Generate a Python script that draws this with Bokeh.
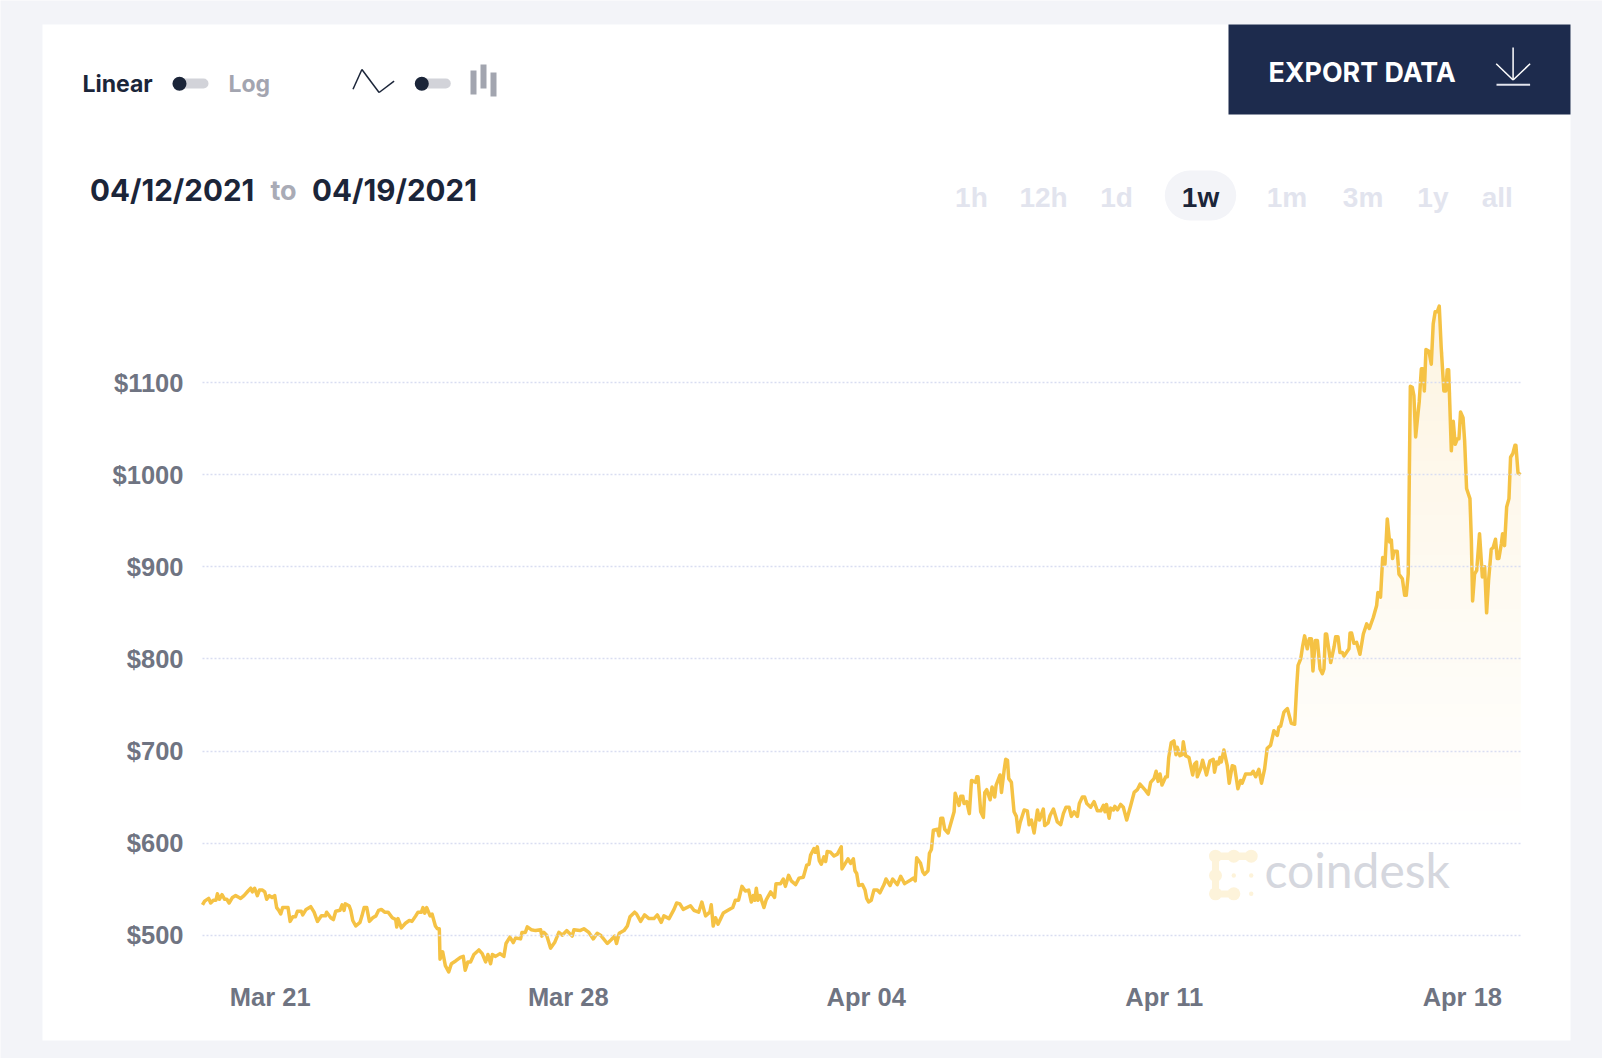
import numpy as np
import pandas as pd
from bokeh.plotting import figure
from bokeh.embed import file_html
from bokeh.resources import INLINE
from bokeh.models import (Arrow, BoxAnnotation, FixedTicker, Label,
                          PrintfTickFormatter, Range1d)

START = pd.Timestamp("2021-03-19 09:48")
TICK_DATES = ["2021-03-21", "2021-03-28", "2021-04-04", "2021-04-11", "2021-04-18"]
TICK_LABELS = ["Mar 21", "Mar 28", "Apr 04", "Apr 11", "Apr 18"]
PRICE_TICKS = [500, 600, 700, 800, 900, 1000, 1100]
RANGES = ["1h", "12h", "1d", "1w", "1m", "3m", "1y", "all"]

HOURS = [
    0, 1.2, 3.5, 4.6, 6.1, 7.6, 8.4, 9.5, 11.0, 12.5,
    13.7, 15.0, 16.9, 18.7, 20.6, 21.5, 23.4, 25.7, 27.2, 28.1,
    29.4, 30.9, 32.1, 33.8, 35.1, 36.2, 37.7, 39.2, 40.7, 41.8,
    43.0, 44.1, 45.2, 48.2, 49.4, 50.9, 52.4, 53.5, 55.7, 56.5,
    58.4, 61.0, 62.9, 64.8, 67.0, 69.3, 70.0, 72.3, 73.8, 75.1,
    77.5, 78.7, 79.8, 80.5, 82.6, 83.6, 84.7, 86.4, 88.8, 89.9,
    91.1, 92.6, 94.1, 96.0, 97.8, 99.3, 100.8, 102.7, 104.6, 107.0,
    108.9, 109.5, 110.2, 112.1, 114.4, 116.6, 118.1, 120.2, 121.5, 123.4,
    124.3, 125.3, 126.4, 128.3, 129.4, 131.3, 132.4, 133.5, 133.9, 135.4,
    136.9, 138.8, 140.3, 142.7, 145.4, 147.0, 148.1, 149.6, 151.1, 153.0,
    155.8, 157.7, 159.6, 160.9, 162.4, 163.4, 165.2, 167.7, 169.9, 171.1,
    173.3, 175.2, 176.5, 179.3, 180.1, 182.0, 183.1, 185.3, 187.8, 190.6,
    191.3, 192.5, 194.0, 196.2, 198.5, 200.9, 202.8, 205.3, 208.4, 209.4,
    212.8, 215.0, 217.8, 220.3, 222.5, 224.4, 228.2, 230.4, 232.3, 233.4,
    234.9, 237.6, 239.5, 241.0, 243.6, 244.7, 247.0, 249.2, 251.7, 254.5,
    256.4, 258.6, 260.1, 263.0, 265.8, 267.3, 269.1, 271.0, 275.1, 277.0,
    279.7, 281.5, 283.6, 286.0, 286.8, 287.9, 289.2, 290.6, 292.1, 293.6,
    296.2, 298.9, 300.4, 302.2, 304.1, 306.0, 307.9, 309.4, 310.5, 311.3,
    312.2, 313.1, 314.3, 316.5, 317.7, 320.3, 322.5, 323.3, 325.9, 327.4,
    328.6, 330.4, 331.9, 334.4, 336.3, 338.7, 340.6, 341.9, 342.8, 344.7,
    345.5, 346.6, 347.7, 348.8, 350.3, 351.3, 352.2, 354.1, 356.0, 357.9,
    360.1, 360.5, 362.7, 363.9, 365.4, 366.9, 367.8, 368.8, 369.9, 372.0,
    373.5, 374.4, 375.5, 377.0, 378.5, 380.4, 381.9, 384.2, 385.3, 387.6,
    389.1, 391.7, 393.6, 395.8, 399.2, 400.7, 401.8, 402.6, 404.8, 406.0,
    407.1, 409.0, 409.8, 410.9, 412.0, 414.3, 415.2, 416.2, 417.3, 418.4,
    420.3, 423.7, 424.3, 426.5, 427.5, 428.6, 429.3, 430.8, 432.3, 433.5,
    435.9, 436.5, 437.2, 438.7, 440.2, 441.0, 442.1, 444.0, 445.1, 446.6,
    447.4, 449.6, 450.4, 451.9, 452.8, 453.8, 454.5, 456.0, 457.5, 458.8,
    459.8, 460.9, 463.2, 465.0, 466.0, 467.3, 468.8, 470.7, 471.8, 474.0,
    474.8, 476.7, 477.8, 479.7, 481.9, 483.8, 485.3, 486.8, 488.5, 489.8,
    491.3, 493.2, 494.3, 496.0, 497.3, 498.5, 500.7, 502.6, 504.5, 506.4,
    507.9, 508.8, 509.6, 511.1, 512.0, 513.5, 514.3, 515.8, 517.6, 519.1,
    521.0, 523.3, 525.2, 527.0, 528.5, 531.7, 533.2, 534.5, 536.4, 537.6,
    538.7, 539.8, 540.9, 543.0, 543.9, 544.7, 546.1, 547.6, 548.8, 549.5,
    551.0, 552.3, 552.9, 554.2, 556.1, 558.2, 559.3, 560.4, 560.8, 562.7,
    563.8, 566.0, 567.9, 569.8, 570.5, 571.7, 572.8, 573.6, 574.3, 575.8,
    577.7, 578.8, 580.5, 581.8, 583.7, 585.2, 586.1, 588.0, 591.2, 592.3,
    593.7, 595.5, 597.0, 598.7, 600.2, 602.1, 604.0, 605.9, 606.8, 607.8,
    609.6, 610.4, 611.6, 613.8, 615.7, 616.8, 617.6, 619.1, 620.2, 621.3,
    622.8, 624.0, 625.1, 626.0, 627.3, 628.5, 630.0, 631.3, 632.2, 633.0,
    633.7, 636.0, 637.9, 638.8, 640.1, 641.2, 642.6, 643.5, 646.3, 646.9,
    647.8, 649.1, 650.6, 652.5, 654.4, 656.3, 657.8, 660.0, 661.9, 662.6,
    664.1, 665.3, 666.6, 667.9, 669.2, 670.2, 670.9, 671.7, 673.5, 674.5,
    676.4, 677.7, 678.6, 679.7, 680.3, 680.9, 682.0, 682.9, 683.9, 685.2,
    685.9, 687.1, 688.0, 688.8, 689.7, 691.4, 692.7, 693.8, 694.9, 696.1,
    697.2, 698.3, 699.8, 700.9, 701.7, 702.5, 704.0, 705.1, 706.2, 707.4,
    708.3, 709.2, 710.6, 711.5, 712.6, 714.5, 715.3, 716.0, 717.1, 718.3,
    719.9, 721.5, 722.8, 723.9, 725.0, 726.5, 727.6, 728.9, 729.9, 730.8,
    732.2, 732.9, 734.0, 735.2, 736.5, 737.4, 738.7, 739.9, 740.4, 741.6,
    743.0,
]

PRICES = [
    533, 537, 540, 535, 538, 538, 545, 539, 544, 539,
    539, 535, 541, 543, 541, 540, 543, 548, 551, 547,
    551, 543, 549, 549, 547, 539, 543, 541, 543, 530,
    527, 523, 530, 530, 515, 520, 520, 526, 526, 522,
    528, 531, 525, 515, 521, 521, 525, 519, 517, 526,
    527, 533, 527, 534, 532, 527, 516, 510, 514, 521,
    530, 530, 515, 519, 521, 527, 528, 525, 525, 519,
    517, 509, 518, 508, 513, 516, 515, 521, 525, 525,
    530, 524, 530, 521, 523, 510, 507, 507, 474, 482,
    467, 460, 469, 472, 476, 477, 462, 471, 471, 479,
    484, 480, 471, 479, 469, 479, 477, 480, 477, 491,
    498, 492, 497, 496, 503, 503, 509, 506, 505, 506,
    499, 503, 500, 486, 492, 503, 500, 505, 499, 506,
    505, 507, 503, 496, 502, 500, 491, 495, 499, 491,
    502, 505, 510, 520, 525, 523, 515, 522, 518, 518,
    522, 514, 521, 518, 528, 535, 534, 528, 532, 527,
    525, 536, 521, 525, 533, 510, 519, 512, 518, 524,
    527, 530, 538, 538, 553, 548, 549, 536, 543, 538,
    551, 538, 543, 530, 538, 547, 541, 556, 556, 561,
    553, 565, 559, 555, 562, 563, 576, 577, 587, 594,
    590, 596, 581, 577, 585, 580, 591, 590, 586, 588,
    596, 572, 579, 583, 578, 583, 570, 567, 554, 555,
    549, 540, 536, 538, 549, 549, 546, 555, 561, 554,
    561, 555, 564, 556, 560, 562, 559, 584, 578, 569,
    566, 570, 589, 593, 614, 615, 608, 627, 627, 615,
    611, 634, 654, 641, 651, 651, 643, 645, 632, 668,
    666, 672, 672, 634, 628, 655, 658, 647, 661, 650,
    663, 674, 655, 679, 691, 690, 670, 666, 634, 629,
    612, 622, 636, 635, 620, 625, 611, 636, 625, 637,
    619, 622, 630, 637, 623, 620, 632, 639, 639, 629,
    634, 629, 643, 650, 650, 643, 639, 645, 635, 635,
    641, 634, 642, 627, 638, 636, 640, 636, 642, 639,
    625, 641, 655, 658, 664, 657, 653, 666, 670, 678,
    667, 675, 663, 672, 672, 693, 709, 711, 696, 704,
    695, 696, 710, 695, 693, 674, 686, 688, 672, 681,
    690, 674, 689, 691, 677, 688, 686, 693, 688, 701,
    684, 665, 684, 683, 659, 668, 665, 675, 675, 678,
    672, 680, 665, 680, 703, 706, 722, 717, 726, 727,
    742, 744, 746, 730, 729, 769, 793, 800, 814, 825,
    811, 822, 822, 787, 820, 820, 789, 784, 789, 827,
    827, 796, 813, 824, 824, 807, 807, 803, 811, 828,
    828, 817, 818, 805, 827, 838, 833, 845, 858, 872,
    867, 910, 903, 952, 927, 929, 909, 917, 917, 892,
    887, 869, 869, 892, 994, 1096, 1095, 1086, 1041, 1066,
    1079, 1115, 1115, 1091, 1136, 1134, 1120, 1164, 1177, 1177,
    1183, 1138, 1091, 1091, 1114, 1114, 1026, 1058, 1033, 1039,
    1039, 1068, 1062, 1037, 985, 974, 929, 863, 892, 896,
    936, 889, 900, 850, 885, 919, 921, 930, 909, 909,
    925, 936, 923, 965, 974, 1019, 1023, 1032, 1032, 1002,
    1000,
]

W, H = 1602, 1058
HOURS_PER_PX = 743 / 1318
USD_PER_PX = 1.0858
INK, GREY, BG = "#1b2539", "#a3a5b0", "#f3f4f8"
GOLD = "#f5c244"

times = START + pd.to_timedelta(HOURS, unit="h")
prices = np.array(PRICES, dtype=float)
tick_ms = [pd.Timestamp(d).value // 10**6 for d in TICK_DATES]
x0 = START - pd.Timedelta(hours=202 * HOURS_PER_PX)
x1 = START + pd.Timedelta(hours=(W - 202) * HOURS_PER_PX)
y1 = 500 + 934.7 * USD_PER_PX
y0 = 500 - (H - 934.7) * USD_PER_PX

p = figure(width=W, height=H, x_axis_type="datetime", output_backend="svg", toolbar_location=None,
           x_range=Range1d(x0, x1), y_range=Range1d(y0, y1),
           min_border=0, border_fill_color=BG, background_fill_color=BG, outline_line_color=None)


def fx(px):
    return px


def fy(py):
    return H - py


def box(l, t, r, b, color, radius=0, level="annotation"):
    p.add_layout(BoxAnnotation(left=fx(l), right=fx(r), top=fy(t), bottom=fy(b),
                               left_units="screen", right_units="screen",
                               top_units="screen", bottom_units="screen",
                               fill_color=color, fill_alpha=1, line_color=None,
                               border_radius=radius, level=level, editable=False))


def seg(xa, ya, xb, yb, color, width=1.5):
    p.add_layout(Arrow(end=None, x_start=fx(xa), y_start=fy(ya), x_end=fx(xb), y_end=fy(yb),
                       start_units="screen", end_units="screen", line_color=color, line_width=width))


def text(px, py, s, size, color, font="Inter", style="bold", align="left", lift=0.37):
    # labels land lower than their anchor with this baseline, so the anchor is lifted
    p.add_layout(Label(x=fx(px), y=fy(py - size * lift), x_units="screen", y_units="screen", text=s,
                       text_font=font, text_font_size=f"{size}px", text_font_style=style,
                       text_color=color, text_align=align, text_baseline="alphabetic"))


# card and export button
box(42, 24, 1570, 1040, "#ffffff", level="image")
box(1228, 24, 1570, 114, "#1d2b4d", level="image")

# watermark
LOGO = "#fdf3da"
for cx, cy in [(1215, 855.7), (1233.3, 855.7), (1250.7, 855.7), (1215, 875), (1215, 893.3), (1233.3, 893.3)]:
    box(cx - 6.5, cy - 6.5, cx + 6.5, cy + 6.5, LOGO, 7, level="image")
box(1215, 852, 1250, 859.5, LOGO, level="image")
box(1211.5, 856, 1218.5, 893, LOGO, level="image")
box(1215, 890, 1233, 897, LOGO, level="image")
for cx, cy in [(1233.3, 875), (1250.7, 875), (1250.7, 893.3)]:
    box(cx - 2.2, cy - 2.2, cx + 2.2, cy + 2.2, LOGO, 3, level="image")
text(1264, 890.7, "coindesk", 48, "#d5d7de", font="Lato", style="normal", lift=0.446)

# gradient under the line, nested opaque layers
thresholds = np.linspace(620, 1190, 40)
top_rgb = np.array([253, 244, 225])
for i, t in enumerate(thresholds):
    mix = (i + 1) / len(thresholds)
    rgb = np.round(255 + (top_rgb - 255) * mix).astype(int)
    p.varea(times, y1=np.full(len(prices), t), y2=np.maximum(prices, t),
            fill_color="#%02x%02x%02x" % tuple(rgb), fill_alpha=1)

p.line(times, prices, line_color=GOLD, line_width=3.5, line_join="round")

# axes and grid
p.xgrid.visible = False
p.ygrid.ticker = FixedTicker(ticks=PRICE_TICKS)
p.ygrid.grid_line_color = "#d9ddf1"
p.ygrid.grid_line_width = 1.5
p.ygrid.grid_line_dash = "2 2"
p.ygrid.level = "overlay"
p.ygrid.cross_bounds = (START.value / 1e6, (START + pd.Timedelta(hours=743)).value / 1e6)

p.yaxis.ticker = FixedTicker(ticks=PRICE_TICKS)
p.yaxis.formatter = PrintfTickFormatter(format="$%d")
p.xaxis.ticker = FixedTicker(ticks=tick_ms)
p.xaxis.major_label_overrides = dict(zip(tick_ms, TICK_LABELS))
for ax in (p.xaxis[0], p.yaxis[0]):
    ax.axis_line_color = None
    ax.major_tick_line_color = None
    ax.minor_tick_line_color = None
    ax.major_tick_out = 0
    ax.major_tick_in = 0
    ax.major_label_text_font = "Liberation Sans"
    ax.major_label_text_font_style = "bold"
    ax.major_label_text_font_size = "25.5px"
    ax.major_label_text_color = "#6f7482"
p.yaxis.major_label_standoff = -183
p.xaxis.major_label_standoff = -76

# header controls
text(82, 92, "Linear", 23, INK)
text(228, 92, "Log", 23, GREY)
for tx in (172, 414.3):
    box(tx, 78, tx + 36, 88, "#d2d3d9", 5)
    box(tx, 76.3, tx + 14, 90.3, INK, 7)
for (xa, ya), (xb, yb) in [((352.5, 88.7), (361.4, 69)), ((361.4, 69), (378.6, 92)), ((378.6, 92), (393.6, 80.7))]:
    seg(xa, ya, xb, yb, INK)
for l, t, b in [(470, 70, 94), (480, 64, 88), (490, 72, 96)]:
    box(l, t, l + 6, b, "#a2a5af")

text(89.5, 200, "04/12/2021", 29.6, INK)
text(270, 200, "to", 27, "#a9abb6")
text(311.5, 200, "04/19/2021", 29.6, INK)

# export button contents
text(1268, 81.7, "EXPORT DATA", 26.8, "#ffffff", style="bold")
seg(1512.6, 47, 1512.6, 79.5, "#ffffff")
seg(1495.7, 63.3, 1512.6, 79.5, "#ffffff")
seg(1529.6, 63.3, 1512.6, 79.5, "#ffffff")
seg(1496, 84.3, 1529.6, 84.3, "#e3e5ee", 2)

# range selector
box(1164.3, 170, 1235.7, 220, BG, 25)
for name, cx in zip(RANGES, [970.9, 1043, 1116, 1200, 1286.5, 1362.6, 1432.4, 1496.8]):
    text(cx, 208.3, name, 28, INK if name == "1w" else "#e2e4ee", font="Liberation Sans", align="center", lift=0.4)

open("out.html", "w").write(file_html(p, INLINE))
